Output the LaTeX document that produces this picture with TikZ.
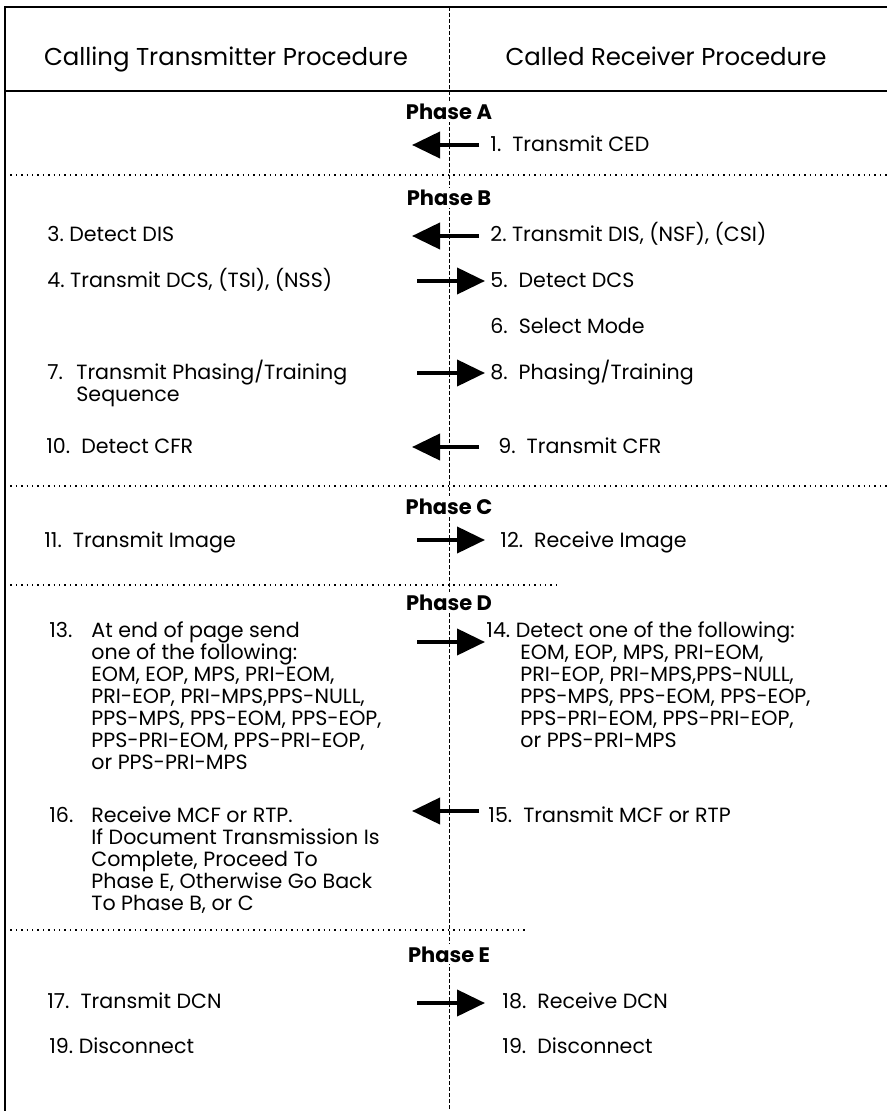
\documentclass[tikz,border=0pt]{standalone}
\usepackage{fontspec}
\setmainfont{Poppins}
\usepackage{tikz}
\usetikzlibrary{arrows.meta}
\tikzstyle{TextItem}=[anchor=base west,inner sep=0pt,font=\fontsize{10.3}{11}\selectfont]
\tikzstyle{TextBlock}=[anchor=base west,inner sep=0pt,align=left,font=\fontsize{10.3}{11}\selectfont]
\tikzstyle{PhaseLabel}=[anchor=base,inner sep=1pt,fill=white,font=\fontsize{10.5}{11}\selectfont\bfseries]
\tikzstyle{HeadLabel}=[anchor=base,inner sep=0pt,font=\fontsize{12.2}{13}\selectfont]
\tikzstyle{ArrowMsg}=[line width=2pt,-{Triangle[length=14pt,width=13pt]}]
\tikzstyle{SepLine}=[line width=0.7pt,dotted]
\tikzstyle{FrameLine}=[line width=0.8pt]

\begin{document}
\begin{tikzpicture}[x=0.5pt,y=-0.5pt]
        \useasboundingbox (0,0) rectangle (887,1111);
        % frame and columns
        \draw[FrameLine](5,1111)--(5,7)--(887,7);
        \draw[FrameLine](5,91)--(887,91);
        \draw[line width=0.5pt,dash pattern=on 2pt off 1pt](449,7)--(449,1111);
        \draw[SepLine](5,175)--(887,175);
        \draw[SepLine](5,486)--(887,486);
        \draw[SepLine](5,585)--(560,585);
        \draw[SepLine](5,930)--(525,930);
        % headings
        \node[HeadLabel](hdL)at(226,66){Calling Transmitter Procedure};
        \node[HeadLabel](hdR)at(666,66){Called Receiver Procedure};
        \node[PhaseLabel](phA)at(449,120){Phase A};
        \node[PhaseLabel](phB)at(449,206){Phase B};
        \node[PhaseLabel](phC)at(449,514){Phase C};
        \node[PhaseLabel](phD)at(449,610){Phase D};
        \node[PhaseLabel](phE)at(449,962){Phase E};
        % calling transmitter (blocks sit on the baseline of their last line)
        \node[TextItem](s3)at(47,242){3.~Detect DIS};
        \node[TextItem](s4)at(47,288){4.~Transmit DCS, (TSI), (NSS)};
        \node[TextItem](n7)at(47,380){7.};
        \node[TextBlock](s7)at(76,402){Transmit Phasing/Training\\Sequence};
        \node[TextItem](s10)at(46,454){10.~~Detect CFR};
        \node[TextItem](s11)at(44,547){11.~~Transmit Image};
        \node[TextItem](n13)at(49,637){13.};
        \node[TextBlock](s13)at(91,769){At end of page send\\one of the following:\\EOM, EOP, MPS, PRI-EOM,\\PRI-EOP, PRI-MPS,PPS-NULL,\\PPS-MPS, PPS-EOM, PPS-EOP,\\PPS-PRI-EOM, PPS-PRI-EOP,\\or PPS-PRI-MPS};
        \node[TextItem](n16)at(49,822){16.};
        \node[TextBlock](s16)at(91,910){Receive MCF or RTP.\\If Document Transmission Is\\Complete, Proceed To\\Phase E, Otherwise Go Back\\To Phase B, or C};
        \node[TextItem](s17)at(47,1008){17.~~Transmit DCN};
        \node[TextItem](s19a)at(49,1053){19.~Disconnect};
        % called receiver
        \node[TextItem](s1)at(490,152){1.~~Transmit CED};
        \node[TextItem](s2)at(490,242){2.~Transmit DIS, (NSF), (CSI)};
        \node[TextItem](s5)at(490,288){5.~~Detect DCS};
        \node[TextItem](s6)at(490,334){6.~~Select Mode};
        \node[TextItem](s8)at(490,380){8.~~Phasing/Training};
        \node[TextItem](s9)at(498,454){9.~~Transmit CFR};
        \node[TextItem](s12)at(500,547){12.~~Receive Image};
        \node[TextItem](s14)at(486,637){14.~Detect one of the following:};
        \node[TextBlock](b14)at(520,747){EOM, EOP, MPS, PRI-EOM,\\PRI-EOP, PRI-MPS,PPS-NULL,\\PPS-MPS, PPS-EOM, PPS-EOP,\\PPS-PRI-EOM, PPS-PRI-EOP,\\or PPS-PRI-MPS};
        \node[TextItem](s15)at(488,822){15.~~Transmit MCF or RTP};
        \node[TextItem](s18)at(502,1008){18.~~Receive DCN};
        \node[TextItem](s19b)at(502,1053){19.~~Disconnect};
        % messages
        \foreach \y/\n in {145/1,236/2,447/9,811/16}{
            \coordinate(r\n)at(479,\y);
            \coordinate(l\n)at(412,\y);
            \draw[ArrowMsg](r\n)--(l\n);
        }
        \foreach \y/\n in {281/4,373/7,540/11,642/13,1003/17}{
            \coordinate(l\n)at(417,\y);
            \coordinate(r\n)at(485,\y);
            \draw[ArrowMsg](l\n)--(r\n);
        }
    \end{tikzpicture}
\end{document}
